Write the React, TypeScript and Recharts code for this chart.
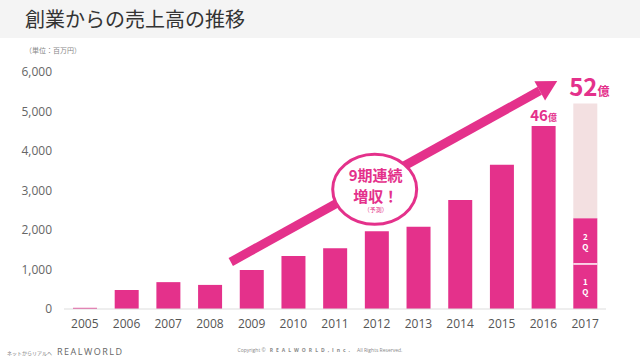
import { BarChart, Bar, XAxis, YAxis, ReferenceLine, ReferenceDot, LabelList } from "recharts";

const years = ["2005", "2006", "2007", "2008", "2009", "2010", "2011", "2012", "2013", "2014", "2015", "2016", "2017"];
const sales = [30, 480, 680, 610, 990, 1340, 1540, 1970, 2080, 2760, 3650, 4630, 0];
const q1 = [0, 0, 0, 0, 0, 0, 0, 0, 0, 0, 0, 0, 1140];
const q2 = [0, 0, 0, 0, 0, 0, 0, 0, 0, 0, 0, 0, 1160];
const forecastRest = [0, 0, 0, 0, 0, 0, 0, 0, 0, 0, 0, 0, 2900];
const topLabels = ["", "", "", "", "", "", "", "", "", "", "", "46", "52"];
const yTicks = [0, 1000, 2000, 3000, 4000, 5000, 6000];

// growth arrow: from half a band left of 2009 to about two thirds of a band left of 2017
const arrowStart = { year: "2009", shift: -0.5, value: 1190 };
const arrowEnd = { year: "2017", shift: -0.67, value: 5770 };
const bubbleAt = { year: "2012", value: 3030 };

const PINK = "#e4318b";
const LIGHT = "#f3e0e1";
const JP = '"Noto Sans CJK JP", sans-serif';

const data = years.map((year, i) => ({
  year,
  sales: sales[i],
  q1: q1[i],
  q2: q2[i],
  rest: forecastRest[i],
  label: topLabels[i],
}));

const bandsBetween = years.indexOf(arrowEnd.year) - years.indexOf(arrowStart.year);

const Arrow = (props: any) => {
  const step = (props.x2 - props.x1) / bandsBetween;
  const x1 = props.x1 + arrowStart.shift * step;
  const x2 = props.x2 + arrowEnd.shift * step;
  const { y1, y2 } = props;
  const ang = Math.atan2(y2 - y1, x2 - x1);
  const headLen = 20;
  const headW = 11;
  const bx = x2 - headLen * Math.cos(ang);
  const by = y2 - headLen * Math.sin(ang);
  const nx = -Math.sin(ang);
  const ny = Math.cos(ang);
  return (
    <g>
      <line x1={x1} y1={y1} x2={bx} y2={by} stroke={PINK} strokeWidth={9} />
      <polygon
        points={`${x2},${y2} ${bx + nx * headW},${by + ny * headW} ${bx - nx * headW},${by - ny * headW}`}
        fill={PINK}
      />
    </g>
  );
};

const Bubble = (props: any) => {
  const { cx, cy } = props;
  return (
    <g>
      <ellipse cx={cx - 2} cy={cy} rx={42} ry={35} fill="#fff" stroke={PINK} strokeWidth={3} />
      <text x={cx - 1} y={cy - 8} textAnchor="middle" fill={PINK} fontSize={15} fontWeight="bold" fontFamily={JP}>
        9期連続
      </text>
      <text x={cx - 1} y={cy + 13} textAnchor="middle" fill={PINK} fontSize={15} fontWeight="bold" fontFamily={JP}>
        増収！
      </text>
      <text x={cx - 1} y={cy + 23} textAnchor="middle" fill={PINK} fontSize={6} fontFamily={JP}>
        （予測）
      </text>
    </g>
  );
};

const TopLabel = (props: any) => {
  const { x, y, width, value } = props;
  if (!value) return null;
  const big = value === "52";
  return (
    <text x={x + width / 2 + (big ? 4 : 0)} y={y - (big ? 8 : 5)} textAnchor="middle" fill={PINK} fontFamily={JP} fontWeight="bold">
      <tspan fontSize={big ? 24 : 15}>{value}</tspan>
      <tspan fontSize={big ? 12 : 9}>億</tspan>
    </text>
  );
};

const QLabel = (text: string) => (props: any) => {
  const { x, y, width, height, value } = props;
  if (!value) return null;
  const cx = x + width / 2;
  const cy = y + height / 2;
  return (
    <text textAnchor="middle" fill="#fff" fontSize={8} fontWeight="bold" fontFamily={JP}>
      <tspan x={cx} y={cy - 1}>{text}</tspan>
      <tspan x={cx} y={cy + 9}>Q</tspan>
    </text>
  );
};

// 2Q segment with a thin white divider along its bottom edge
const Q2Shape = (props: any) => {
  const { x, y, width, height, fill } = props;
  if (!height) return null;
  return (
    <g>
      <rect x={x} y={y} width={width} height={height} fill={fill} />
      <line x1={x} y1={y + height} x2={x + width} y2={y + height} stroke="#fff" strokeWidth={1.5} />
    </g>
  );
};

export default function App() {
  return (
    <div style={{ position: "absolute", left: 0, top: 0, width: 640, height: 360, background: "#fff", overflow: "hidden" }}>
      <div style={{ position: "absolute", left: 0, top: 0, width: 640, height: 38, background: "#f4f4f4" }} />
      <div style={{ position: "absolute", left: 25, top: 5, fontFamily: JP, fontSize: 20, color: "#333", lineHeight: "28px" }}>
        創業からの売上高の推移
      </div>
      <div style={{ position: "absolute", left: 25, top: 45, fontFamily: JP, fontSize: 7, color: "#888" }}>
        （単位：百万円）
      </div>
      <div style={{ position: "absolute", left: 0, top: 0 }}>
        <BarChart width={640} height={360} data={data} margin={{ top: 72, right: 34, bottom: 21, left: 8 }} barSize={24}>
          <XAxis
            dataKey="year"
            height={30}
            tickLine={false}
            tickSize={0}
            tickMargin={10}
            axisLine={{ stroke: "#ddd" }}
            tick={{ fill: "#555", fontSize: 12, fontFamily: '"Open Sans", sans-serif' }}
          />
          <YAxis
            width={56}
            domain={[0, 6000]}
            ticks={yTicks}
            axisLine={false}
            tickLine={false}
            tickSize={0}
            tickMargin={12}
            tickFormatter={(v: number) => v.toLocaleString("en-US")}
            tick={{ fill: "#666", fontSize: 12, fontFamily: '"Open Sans", sans-serif' }}
          />
          <Bar dataKey="sales" stackId="a" fill={PINK} isAnimationActive={false}>
            <LabelList dataKey="label" content={TopLabel} />
          </Bar>
          <Bar dataKey="q1" stackId="a" fill={PINK} isAnimationActive={false}>
            <LabelList dataKey="q1" content={QLabel("1")} />
          </Bar>
          <Bar dataKey="q2" stackId="a" fill={PINK} shape={Q2Shape} isAnimationActive={false}>
            <LabelList dataKey="q2" content={QLabel("2")} />
          </Bar>
          <Bar dataKey="rest" stackId="a" fill={LIGHT} isAnimationActive={false}>
            <LabelList dataKey="label" content={TopLabel} />
          </Bar>
          <ReferenceLine
            segment={[
              { x: arrowStart.year, y: arrowStart.value },
              { x: arrowEnd.year, y: arrowEnd.value },
            ]}
            shape={Arrow}
          />
          <ReferenceDot x={bubbleAt.year} y={bubbleAt.value} r={1} shape={Bubble} />
        </BarChart>
      </div>
      <div style={{ position: "absolute", left: 7, top: 345, fontFamily: JP, fontSize: 5, color: "#777", whiteSpace: "nowrap" }}>
        ネットからリアルへ
        <span style={{ fontFamily: '"Open Sans", sans-serif', fontSize: 9, letterSpacing: 1.5, marginLeft: 5, color: "#666" }}>REALWORLD</span>
      </div>
      <div style={{ position: "absolute", left: 0, width: 640, top: 347, textAlign: "center", fontFamily: '"Open Sans", sans-serif', fontSize: 5, color: "#888", whiteSpace: "nowrap" }}>
        Copyright ©
        <span style={{ fontWeight: "bold", letterSpacing: 3, margin: "0 4px" }}>REALWORLD,Inc.</span>
        All Rights Reserved.
      </div>
    </div>
  );
}
